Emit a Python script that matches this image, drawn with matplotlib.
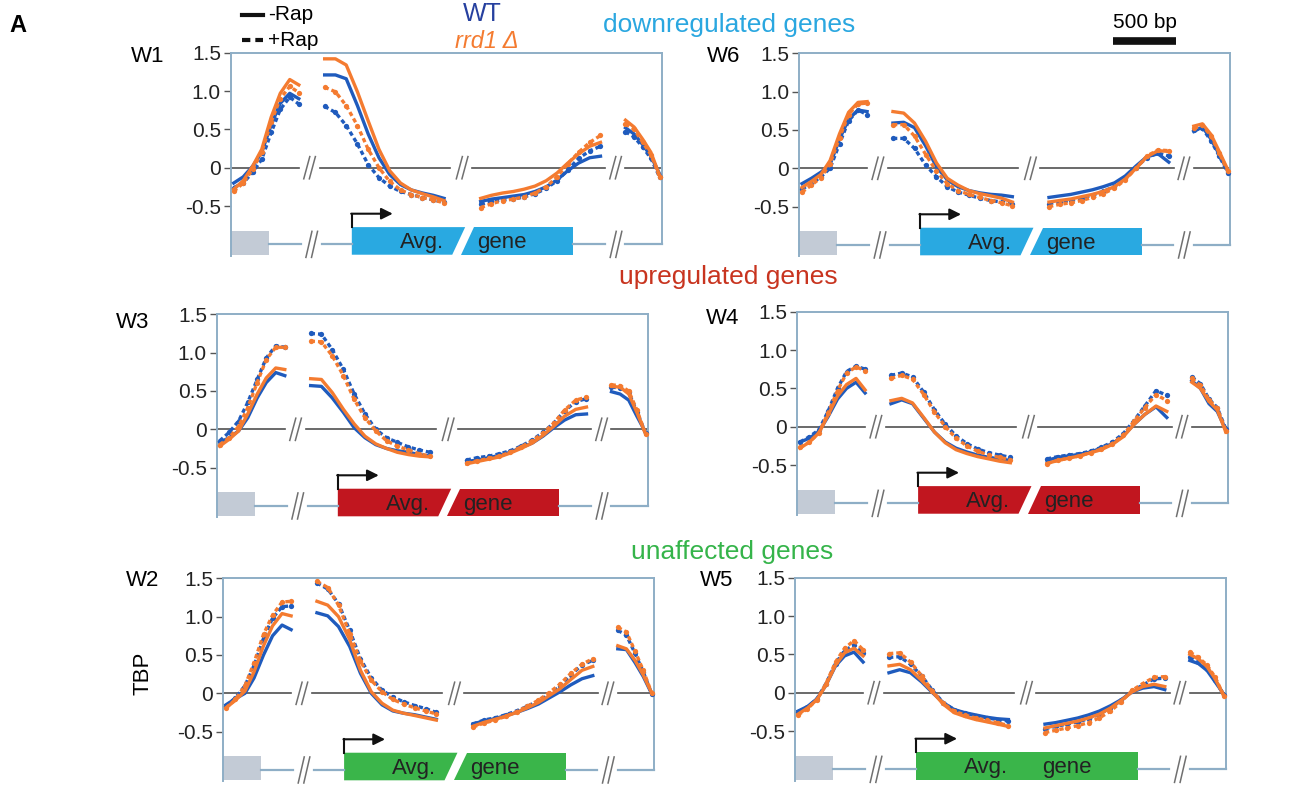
import matplotlib.pyplot as plt
from matplotlib.lines import Line2D
from matplotlib.patches import Polygon

plt.rcParams['font.family'] = ['Liberation Sans', 'DejaVu Sans']

FW, FH = 1303, 787

# positions of the profile points along one panel (0-100, four segments)
x_up = [0.7, 2.9, 5.1, 7.2, 9.4, 11.5, 13.7, 15.8]
x_tss = [21.8, 24.3, 26.8, 29.4, 31.9, 34.4, 36.9, 39.4, 41.9, 44.5, 47.0, 49.5]
x_tts = [58.0, 60.5, 63.1, 65.6, 68.1, 70.6, 73.2, 75.7, 78.2, 80.7, 83.3, 85.8]
x_down = [91.6, 93.6, 95.6, 97.5, 99.5]
seg_x = [x_up, x_tss, x_tts, x_down]

yticks = [-0.5, 0, 0.5, 1.0, 1.5]
ytick_labels = ['-0.5', '0', '0.5', '1.0', '1.5']

# TBP profiles: wt / rrd1, -Rap (m) / +Rap (p)
W1_wt_m = [-0.20, -0.12, 0.02, 0.20, 0.56, 0.84, 0.97, 0.90,
           1.21, 1.21, 1.16, 0.81, 0.44, 0.13, -0.09, -0.22, -0.29, -0.33, -0.36, -0.40,
           -0.44, -0.41, -0.39, -0.37, -0.35, -0.31, -0.25, -0.16, -0.04, 0.06, 0.13, 0.15,
           0.52, 0.44, 0.30, 0.15, -0.08]
W1_wt_p = [-0.26, -0.20, -0.06, 0.11, 0.46, 0.76, 0.92, 0.83,
           0.80, 0.72, 0.55, 0.31, 0.04, -0.13, -0.24, -0.31, -0.35, -0.39, -0.42, -0.45,
           -0.48, -0.44, -0.42, -0.41, -0.38, -0.34, -0.27, -0.17, -0.03, 0.12, 0.22, 0.28,
           0.47, 0.40, 0.27, 0.12, -0.12]
W1_rr_m = [-0.28, -0.17, 0.02, 0.24, 0.66, 0.97, 1.15, 1.08,
           1.42, 1.42, 1.34, 0.99, 0.61, 0.24, -0.04, -0.20, -0.29, -0.34, -0.38, -0.43,
           -0.40, -0.36, -0.33, -0.31, -0.28, -0.24, -0.17, -0.07, 0.06, 0.18, 0.28, 0.33,
           0.62, 0.53, 0.37, 0.20, -0.10]
W1_rr_p = [-0.31, -0.20, -0.02, 0.20, 0.60, 0.90, 1.06, 0.98,
           1.05, 0.99, 0.81, 0.55, 0.24, 0.00, -0.18, -0.29, -0.35, -0.39, -0.42, -0.46,
           -0.52, -0.47, -0.43, -0.41, -0.38, -0.33, -0.25, -0.12, 0.05, 0.20, 0.33, 0.42,
           0.57, 0.50, 0.33, 0.17, -0.12]

W6_wt_m = [-0.20, -0.13, -0.05, 0.05, 0.38, 0.64, 0.76, 0.74,
           0.59, 0.60, 0.53, 0.29, 0.02, -0.15, -0.24, -0.29, -0.32, -0.34, -0.35, -0.37,
           -0.38, -0.36, -0.34, -0.31, -0.28, -0.24, -0.19, -0.10, 0.03, 0.15, 0.19, 0.08,
           0.48, 0.54, 0.38, 0.18, -0.04]
W6_wt_p = [-0.27, -0.20, -0.11, 0.00, 0.32, 0.62, 0.76, 0.70,
           0.39, 0.39, 0.26, 0.04, -0.11, -0.24, -0.31, -0.35, -0.39, -0.42, -0.44, -0.47,
           -0.46, -0.44, -0.42, -0.39, -0.35, -0.30, -0.24, -0.13, 0.01, 0.14, 0.20, 0.16,
           0.50, 0.52, 0.36, 0.16, -0.06]
W6_rr_m = [-0.25, -0.17, -0.08, 0.10, 0.45, 0.73, 0.86, 0.87,
           0.74, 0.72, 0.59, 0.35, 0.07, -0.13, -0.22, -0.29, -0.33, -0.36, -0.39, -0.44,
           -0.44, -0.42, -0.40, -0.37, -0.34, -0.30, -0.24, -0.14, 0.00, 0.15, 0.23, 0.22,
           0.55, 0.58, 0.44, 0.22, -0.02]
W6_rr_p = [-0.31, -0.22, -0.12, 0.06, 0.40, 0.70, 0.84, 0.85,
           0.57, 0.57, 0.42, 0.18, -0.04, -0.20, -0.29, -0.34, -0.38, -0.42, -0.45, -0.49,
           -0.50, -0.47, -0.45, -0.42, -0.38, -0.33, -0.26, -0.15, 0.00, 0.16, 0.24, 0.23,
           0.52, 0.56, 0.42, 0.20, -0.04]

W3_wt_m = [-0.17, -0.11, -0.02, 0.15, 0.41, 0.61, 0.74, 0.70,
           0.57, 0.56, 0.41, 0.22, 0.02, -0.11, -0.20, -0.25, -0.28, -0.30, -0.33, -0.35,
           -0.42, -0.40, -0.37, -0.34, -0.30, -0.24, -0.18, -0.09, 0.02, 0.12, 0.19, 0.20,
           0.49, 0.46, 0.38, 0.17, -0.04]
W3_wt_p = [-0.15, -0.04, 0.11, 0.35, 0.65, 0.93, 1.09, 1.07,
           1.25, 1.24, 1.04, 0.78, 0.46, 0.20, 0.00, -0.11, -0.17, -0.23, -0.27, -0.30,
           -0.40, -0.37, -0.35, -0.32, -0.28, -0.22, -0.14, -0.04, 0.08, 0.24, 0.36, 0.40,
           0.55, 0.54, 0.48, 0.23, -0.05]
W3_rr_m = [-0.22, -0.13, -0.02, 0.20, 0.46, 0.67, 0.80, 0.78,
           0.66, 0.65, 0.48, 0.26, 0.07, -0.09, -0.19, -0.25, -0.30, -0.33, -0.35, -0.36,
           -0.45, -0.42, -0.39, -0.36, -0.31, -0.25, -0.18, -0.08, 0.04, 0.17, 0.26, 0.29,
           0.56, 0.55, 0.46, 0.22, -0.06]
W3_rr_p = [-0.20, -0.11, 0.04, 0.28, 0.61, 0.91, 1.07, 1.07,
           1.15, 1.14, 0.96, 0.70, 0.39, 0.15, -0.02, -0.15, -0.22, -0.27, -0.32, -0.35,
           -0.44, -0.41, -0.38, -0.35, -0.30, -0.23, -0.15, -0.05, 0.08, 0.25, 0.38, 0.42,
           0.58, 0.57, 0.50, 0.25, -0.06]

W4_wt_m = [-0.20, -0.15, -0.06, 0.13, 0.36, 0.50, 0.58, 0.44,
           0.30, 0.35, 0.30, 0.11, -0.07, -0.20, -0.28, -0.33, -0.37, -0.40, -0.42, -0.44,
           -0.44, -0.40, -0.38, -0.36, -0.33, -0.28, -0.22, -0.12, 0.03, 0.16, 0.26, 0.12,
           0.60, 0.50, 0.30, 0.20, -0.04]
W4_wt_p = [-0.20, -0.13, -0.04, 0.20, 0.50, 0.72, 0.79, 0.75,
           0.67, 0.70, 0.65, 0.45, 0.22, 0.03, -0.12, -0.22, -0.29, -0.34, -0.37, -0.40,
           -0.42, -0.39, -0.37, -0.35, -0.32, -0.27, -0.20, -0.09, 0.08, 0.27, 0.47, 0.41,
           0.65, 0.56, 0.36, 0.25, -0.03]
W4_rr_m = [-0.28, -0.20, -0.08, 0.15, 0.40, 0.55, 0.63, 0.48,
           0.34, 0.37, 0.31, 0.12, -0.07, -0.21, -0.30, -0.35, -0.39, -0.42, -0.45, -0.47,
           -0.48, -0.44, -0.41, -0.38, -0.34, -0.30, -0.23, -0.13, 0.03, 0.16, 0.27, 0.20,
           0.58, 0.50, 0.33, 0.22, -0.07]
W4_rr_p = [-0.27, -0.20, -0.08, 0.18, 0.47, 0.70, 0.78, 0.73,
           0.63, 0.67, 0.62, 0.42, 0.19, 0.00, -0.15, -0.25, -0.32, -0.37, -0.40, -0.43,
           -0.48, -0.44, -0.41, -0.38, -0.34, -0.29, -0.22, -0.11, 0.07, 0.25, 0.42, 0.34,
           0.63, 0.54, 0.35, 0.24, -0.05]

W2_wt_m = [-0.15, -0.07, 0.00, 0.20, 0.50, 0.75, 0.89, 0.83,
           1.05, 1.01, 0.87, 0.61, 0.26, 0.00, -0.15, -0.23, -0.26, -0.28, -0.31, -0.34,
           -0.40, -0.36, -0.33, -0.29, -0.25, -0.20, -0.14, -0.06, 0.02, 0.11, 0.19, 0.23,
           0.58, 0.57, 0.40, 0.22, -0.01]
W2_wt_p = [-0.16, -0.06, 0.10, 0.36, 0.72, 0.98, 1.13, 1.14,
           1.44, 1.36, 1.17, 0.82, 0.45, 0.20, 0.04, -0.05, -0.11, -0.16, -0.20, -0.25,
           -0.40, -0.35, -0.32, -0.28, -0.23, -0.17, -0.10, -0.01, 0.09, 0.24, 0.37, 0.43,
           0.82, 0.76, 0.52, 0.28, -0.01]
W2_rr_m = [-0.19, -0.09, 0.03, 0.28, 0.62, 0.88, 1.04, 1.01,
           1.20, 1.15, 1.00, 0.70, 0.30, 0.02, -0.13, -0.22, -0.26, -0.29, -0.32, -0.35,
           -0.43, -0.38, -0.34, -0.30, -0.25, -0.19, -0.12, -0.03, 0.06, 0.18, 0.30, 0.35,
           0.62, 0.58, 0.43, 0.24, 0.00]
W2_rr_p = [-0.19, -0.08, 0.10, 0.40, 0.77, 1.02, 1.19, 1.20,
           1.46, 1.38, 1.15, 0.78, 0.42, 0.17, 0.02, -0.08, -0.14, -0.19, -0.23, -0.27,
           -0.44, -0.39, -0.35, -0.30, -0.24, -0.17, -0.09, 0.01, 0.12, 0.26, 0.38, 0.45,
           0.86, 0.80, 0.55, 0.30, 0.00]

W5_wt_m = [-0.24, -0.18, -0.08, 0.10, 0.35, 0.48, 0.53, 0.40,
           0.26, 0.30, 0.26, 0.14, 0.00, -0.13, -0.22, -0.26, -0.29, -0.32, -0.34, -0.35,
           -0.41, -0.39, -0.36, -0.33, -0.29, -0.24, -0.17, -0.09, 0.01, 0.06, 0.08, 0.04,
           0.42, 0.38, 0.29, 0.14, -0.02]
W5_wt_p = [-0.25, -0.19, -0.08, 0.12, 0.38, 0.55, 0.62, 0.52,
           0.46, 0.47, 0.37, 0.22, 0.03, -0.13, -0.22, -0.27, -0.30, -0.33, -0.35, -0.37,
           -0.47, -0.44, -0.41, -0.38, -0.34, -0.28, -0.20, -0.10, 0.02, 0.10, 0.18, 0.19,
           0.46, 0.40, 0.31, 0.16, -0.03]
W5_rr_m = [-0.28, -0.20, -0.09, 0.10, 0.36, 0.52, 0.58, 0.48,
           0.35, 0.37, 0.30, 0.16, 0.01, -0.15, -0.26, -0.31, -0.35, -0.38, -0.41, -0.44,
           -0.46, -0.43, -0.40, -0.37, -0.33, -0.28, -0.20, -0.10, 0.01, 0.08, 0.11, 0.08,
           0.50, 0.44, 0.34, 0.18, -0.04]
W5_rr_p = [-0.29, -0.21, -0.09, 0.12, 0.40, 0.58, 0.68, 0.56,
           0.51, 0.52, 0.40, 0.22, 0.02, -0.14, -0.24, -0.29, -0.33, -0.36, -0.39, -0.43,
           -0.52, -0.49, -0.46, -0.43, -0.39, -0.33, -0.24, -0.12, 0.03, 0.12, 0.20, 0.21,
           0.53, 0.46, 0.36, 0.20, -0.04]

blue = '#1f5bbd'
orange = '#f47b30'
spine_c = '#8eaec6'
box_blue = '#29a9e1'
box_red = '#c1161f'
box_green = '#3ab54a'

panels = [
    ('W1', 230.7, 52.7, (148, 57), box_blue, True, W1_wt_m, W1_wt_p, W1_rr_m, W1_rr_p),
    ('W6', 799.0, 53.3, (724, 57), box_blue, True, W6_wt_m, W6_wt_p, W6_rr_m, W6_rr_p),
    ('W3', 216.7, 314.3, (133, 322), box_red, True, W3_wt_m, W3_wt_p, W3_rr_m, W3_rr_p),
    ('W4', 797.0, 311.7, (723, 318), box_red, True, W4_wt_m, W4_wt_p, W4_rr_m, W4_rr_p),
    ('W2', 223.0, 578.3, (143, 580), box_green, True, W2_wt_m, W2_wt_p, W2_rr_m, W2_rr_p),
    ('W5', 795.0, 577.7, (717, 580), box_green, False, W5_wt_m, W5_wt_p, W5_rr_m, W5_rr_p),
]


def fx(px):
    return px / FW


def fy(py):
    return 1 - py / FH


def split(vals):
    out = []
    i = 0
    for xs in seg_x:
        out.append((xs, vals[i:i + len(xs)]))
        i += len(xs)
    return out


def breakmark(ax, xc, yc, h):
    for off in (-0.65, 0.65):
        ax.plot([xc + off - 0.7, xc + off + 0.7], [yc - h, yc + h],
                color='#707070', lw=1.1, clip_on=False)


fig = plt.figure(figsize=(FW / 100, FH / 100), dpi=100)

for name, left, top, lab, boxc, slash, wt_m, wt_p, rr_m, rr_p in panels:
    ax = fig.add_axes([fx(left), fy(top + 207), 431 / FW, 207 / FH])
    ax.set_xlim(0, 100)
    ax.set_ylim(-1.2, 1.5)
    ax.patch.set_alpha(0)
    for s in ['left', 'right', 'top']:
        ax.spines[s].set_color(spine_c)
        ax.spines[s].set_linewidth(1.4)
    ax.spines['bottom'].set_visible(False)
    ax.spines['left'].set_bounds(-1.15, 1.5)
    ax.spines['right'].set_bounds(-1.0, 1.5)
    ax.set_xticks([])
    ax.set_yticks(yticks)
    ax.set_yticklabels(ytick_labels, fontsize=15, color='#222222')
    ax.tick_params(axis='y', length=5, width=1, color='#555555', pad=2)

    # zero line with breaks
    for a, b in [(0, 15.8), (20.7, 50.9), (56.0, 86.9), (91.6, 100)]:
        ax.plot([a, b], [0, 0], color='#505050', lw=1.2, clip_on=False, zorder=1)
    for xb in [18.3, 53.7, 89.3]:
        breakmark(ax, xb, 0, 0.145)

    # gene diagram
    for a, b in [(8.8, 16.2), (21.2, 28.1), (79.5, 86.8), (91.6, 100)]:
        ax.plot([a, b], [-1.0, -1.0], color=spine_c, lw=1.6, clip_on=False)
    for xb in [18.8, 89.4]:
        breakmark(ax, xb, -1.0, 0.17)
    ax.add_patch(Polygon([(0, -0.82), (8.8, -0.82), (8.8, -1.135), (0, -1.135)],
                         closed=True, color='#c3cbd6', lw=0, clip_on=False))
    if slash:
        ax.add_patch(Polygon([(28.1, -0.775), (54.4, -0.775), (51.4, -1.135), (28.1, -1.135)],
                             closed=True, color=boxc, lw=0, clip_on=False))
        ax.add_patch(Polygon([(56.5, -0.775), (79.5, -0.775), (79.5, -1.135), (53.5, -1.135)],
                             closed=True, color=boxc, lw=0, clip_on=False))
    else:
        ax.add_patch(Polygon([(28.1, -0.775), (79.5, -0.775), (79.5, -1.135), (28.1, -1.135)],
                             closed=True, color=boxc, lw=0, clip_on=False))
    ax.text(44.4, -0.975, 'Avg.', fontsize=16, color='#222222', ha='center', va='center')
    ax.text(63.0, -0.975, 'gene', fontsize=16, color='#222222', ha='center', va='center')
    ax.plot([28.1, 28.1], [-0.775, -0.6], color='#111111', lw=1.5, clip_on=False)
    ax.annotate('', xy=(37.6, -0.6), xytext=(27.95, -0.6),
                arrowprops=dict(arrowstyle='-|>', lw=1.5, color='#111111',
                                mutation_scale=17, shrinkA=0, shrinkB=0))

    # profiles
    for vals, c, dashed in [(wt_m, blue, False), (wt_p, blue, True),
                            (rr_m, orange, False), (rr_p, orange, True)]:
        for xs, ys in split(vals):
            if dashed:
                ax.plot(xs, ys, color=c, lw=2.4, ls=(0, (1.3, 0.9)), marker='o',
                        ms=3.8, mew=0, clip_on=False, zorder=3)
            else:
                ax.plot(xs, ys, color=c, lw=2.4, clip_on=False, zorder=3)

    fig.text(fx(lab[0]), fy(lab[1]), name, fontsize=16, ha='center', va='center')

# headings and annotations
fig.text(fx(18), fy(25), 'A', fontsize=17, fontweight='bold', ha='center', va='center')
fig.text(fx(729), fy(25), 'downregulated genes', fontsize=19, color='#2aa7e0',
         ha='center', va='center')
fig.text(fx(728), fy(277), 'upregulated genes', fontsize=19, color='#c8341f',
         ha='center', va='center')
fig.text(fx(732), fy(552), 'unaffected genes', fontsize=19, color='#35b44a',
         ha='center', va='center')
fig.text(fx(143), fy(673), 'TBP', fontsize=16, rotation=90, ha='center', va='center')

fig.add_artist(Line2D([fx(242), fx(263)], [fy(15), fy(15)], color='#111111', lw=3))
fig.add_artist(Line2D([fx(242), fx(263)], [fy(40), fy(40)], color='#111111', lw=3,
                      ls=(0, (2.0, 1.2))))
fig.text(fx(268), fy(15), '-Rap', fontsize=15, ha='left', va='center')
fig.text(fx(268), fy(40), '+Rap', fontsize=15, ha='left', va='center')
fig.text(fx(482), fy(14), 'WT', fontsize=18, color='#26409f', ha='center', va='center')
fig.text(fx(487), fy(41), 'rrd1 Δ', fontsize=17, color=orange, style='italic',
         ha='center', va='center')

fig.text(fx(1145), fy(23), '500 bp', fontsize=15, ha='center', va='center')
fig.add_artist(Line2D([fx(1113), fx(1176)], [fy(41), fy(41)], color='#111111', lw=5.5,
                      solid_capstyle='butt'))

fig.savefig('out.png', dpi=100)
